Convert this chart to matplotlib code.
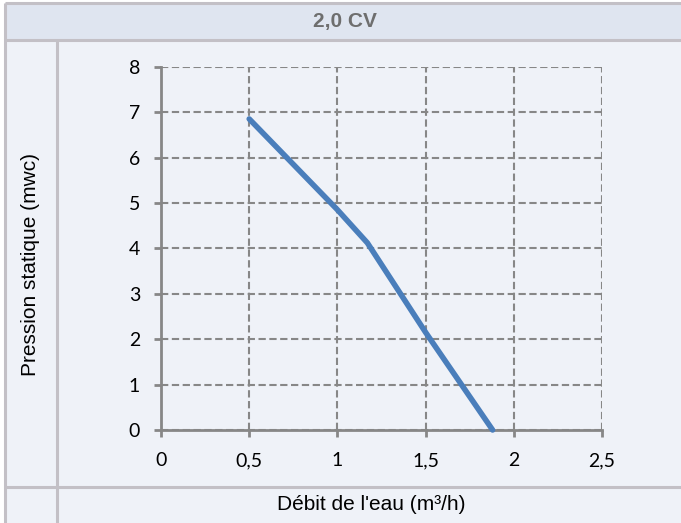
import matplotlib
matplotlib.use("Agg")
import matplotlib.pyplot as plt
from matplotlib.lines import Line2D
from matplotlib.patches import Rectangle

# Pump curve: flow (m3/h) vs static pressure (mwc)
debit = [0.5, 1.0, 1.17, 1.5, 1.88]
pression = [6.85, 4.85, 4.12, 2.15, 0.0]

x_ticks = [0, 0.5, 1, 1.5, 2, 2.5]
x_tick_labels = ["0", "0,5", "1", "1,5", "2", "2,5"]
y_ticks = [0, 1, 2, 3, 4, 5, 6, 7, 8]
y_tick_labels = ["0", "1", "2", "3", "4", "5", "6", "7", "8"]

titre = "2,0 CV"
label_y = "Pression statique (mwc)"
label_x = "Débit de l'eau (m³/h)"

W, H = 681, 523
fig = plt.figure(figsize=(W / 100, H / 100), dpi=100)
fig.patch.set_facecolor("white")


def fx(px):
    return px / W


def fy(py):
    return 1 - py / H


body_bg = "#EFF2F8"
head_bg = "#DFE5F0"
border = "#C3C0C6"

# table cells
fig.patches.append(Rectangle((fx(5), 0), 1 - fx(5), fy(3), transform=fig.transFigure,
                             facecolor=body_bg, edgecolor="none", zorder=-3))
fig.patches.append(Rectangle((fx(5), fy(40)), 1 - fx(5), fy(3) - fy(40), transform=fig.transFigure,
                             facecolor=head_bg, edgecolor="none", zorder=-3))

for (x0, y0, x1, y1) in [(5, 3, W, 3), (5, 3, 5, H), (5, 40, W, 40),
                         (57, 40, 57, H), (5, 487, W, 487)]:
    fig.lines.append(Line2D([fx(x0), fx(x1)], [fy(y0), fy(y1)], transform=fig.transFigure,
                            color=border, lw=2.2, solid_capstyle="butt", zorder=-2))

fig.text(fx(345), fy(22), titre, ha="center", va="center", fontsize=15,
         fontweight="bold", color="#6E6E6E", family="Liberation Sans")
fig.text(fx(31), fy(264), label_y, ha="center", va="center", rotation=90,
         fontsize=15, color="black", family="Liberation Sans")
fig.text(fx(371), fy(505), label_x, ha="center", va="center",
         fontsize=15, color="black", family="Liberation Sans")

ax = fig.add_axes([fx(161), fy(430), fx(602) - fx(161), fy(66.7) - fy(430)])
ax.set_zorder(5)
ax.set_facecolor("none")
ax.set_xlim(0, 2.5)
ax.set_ylim(0, 8)

grid_col = "#878787"
ax.set_xticks(x_ticks)
ax.set_xticklabels(x_tick_labels)
ax.set_yticks(y_ticks)
ax.set_yticklabels(y_tick_labels)
ax.grid(True, color=grid_col, linestyle=(0, (3.5, 1.7)), lw=1.5, zorder=1)
ax.set_axisbelow(True)

for s in ["top", "right"]:
    ax.spines[s].set_visible(False)
for s in ["left", "bottom"]:
    ax.spines[s].set_color(grid_col)
    ax.spines[s].set_linewidth(2)
    ax.spines[s].set_zorder(2)

ax.tick_params(axis="both", colors=grid_col, width=2, length=5, direction="out",
               labelcolor="black", labelsize=14)
ax.tick_params(axis="x", pad=11)
ax.tick_params(axis="y", pad=10)
for lab in ax.get_xticklabels() + ax.get_yticklabels():
    lab.set_family("Lato")

ax.plot(debit, pression, color="#4A7EBB", lw=4, solid_capstyle="round",
        solid_joinstyle="round", zorder=3, clip_on=False)

fig.savefig("out.png", dpi=100)
